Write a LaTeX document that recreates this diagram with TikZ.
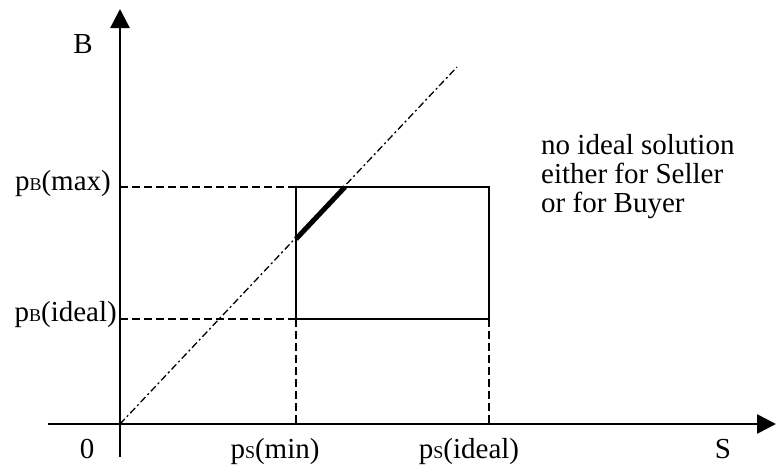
\documentclass[tikz,border=0pt]{standalone}
\usepackage{fontspec}
\setmainfont{Liberation Serif}
\usetikzlibrary{arrows.meta}
\newcommand{\sbt}[1]{\raisebox{-0.3pt}{\fontsize{18}{18}\selectfont #1}}
\begin{document}
\begin{tikzpicture}[x=1pt,y=-1pt,
  lbl/.style={inner sep=0pt,font=\fontsize{29}{29}\selectfont},
  axisline/.style={line width=2.6pt,-{Triangle[length=19pt,width=19pt]}},
  boxline/.style={line width=1.8pt},
  guide/.style={line width=1.4pt,dash pattern=on 8pt off 4pt},
  diag/.style={line width=1.3pt,dash pattern=on 7pt off 3pt on 2pt off 3pt},
  seg/.style={line width=5pt}]
\useasboundingbox (0,0) rectangle (776,469);
% key points
\coordinate (O) at (120,424);
\coordinate (Ybot) at (120,457);
\coordinate (Ytop) at (120,9);
\coordinate (Xleft) at (48,424);
\coordinate (Xright) at (776,424);
\coordinate (R1) at (296,187);
\coordinate (R2) at (489,187);
\coordinate (R3) at (489,319);
\coordinate (R4) at (296,319);
\coordinate (LmaxA) at (120,187);
\coordinate (LidA) at (120,319);
\coordinate (Bmin) at (296,424);
\coordinate (Bid) at (489,424);
\coordinate (Dend) at (457,67);
\coordinate (S1) at (296,239);
\coordinate (S2) at (345,187);
% guides
\draw[guide] (LmaxA) -- (R1);
\draw[guide] (LidA) -- (R4);
\draw[guide] (R4) -- (Bmin);
\draw[guide] (R3) -- (Bid);
% rectangle
\draw[boxline] (R1) -- (R2) -- (R3) -- (R4) -- cycle;
% diagonal
\draw[diag] (O) -- (Dend);
\draw[seg] (S1) -- (S2);
% axes
\draw[axisline] (Ybot) -- (Ytop);
\draw[axisline] (Xleft) -- (Xright);
% labels
\node[lbl,anchor=base] (lB) at (83,53) {B};
\node[lbl,anchor=base east] (lmax) at (111,190) {p\sbt{B}(max)};
\node[lbl,anchor=base east] (lid) at (117,321) {p\sbt{B}(ideal)};
\node[lbl,anchor=base] (l0) at (87,458) {0};
\node[lbl,anchor=base] (lmin) at (275,458) {p\sbt{S}(min)};
\node[lbl,anchor=base] (lsid) at (469,458) {p\sbt{S}(ideal)};
\node[lbl,anchor=base] (lS) at (723,458) {S};
\node[lbl,anchor=base west,align=left] (note) at (541,212) {no ideal solution\\either for Seller\\or for Buyer};
\end{tikzpicture}
\end{document}
